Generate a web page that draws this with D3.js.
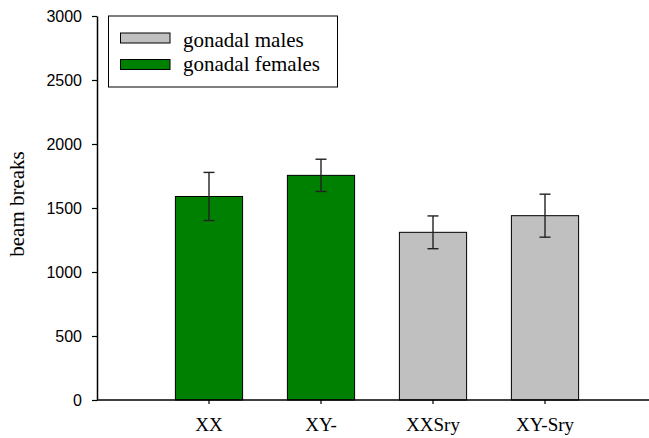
<!DOCTYPE html>
<html>
<head>
<meta charset="utf-8">
<script src="https://cdn.jsdelivr.net/npm/d3@7"></script>
<style>
  body { margin: 0; background: #fff; }
</style>
</head>
<body>
<div id="chart"></div>
<script>
// data
const categories = ["XX", "XY-", "XXSry", "XY-Sry"];
const means = [1590, 1755, 1310, 1440];
const errors = [188, 126, 128, 168];
const groups = ["female", "female", "male", "male"];
const yTicks = [0, 500, 1000, 1500, 2000, 2500, 3000];
const legendLabels = ["gonadal males", "gonadal females"];
const legendGroups = ["male", "female"];

const colour = { male: "#c0c0c0", female: "#008000" };
const serif = "'Liberation Serif', 'Times New Roman', serif";
const sans = "'Liberation Sans', Arial, sans-serif";

const svg = d3.select("#chart")
.append("svg")
.attr("width", 649)
.attr("height", 438);

const yScale = d3.scaleLinear()
.domain([0, 3000])
.range([400, 16]);

// categories sit on slots 1..4 of an axis running 0..5
const xScale = d3.scaleBand()
.domain(categories)
.range([153, 601])
.paddingInner(0.4)
.paddingOuter(0.2);

// bars
svg.selectAll(".bar")
    .data(categories)
    .join("rect")
    .attr("class", "bar")
    .attr("x", d => xScale(d))
    .attr("y", (d, i) => yScale(means[i]))
    .attr("width", xScale.bandwidth())
    .attr("height", (d, i) => yScale(0) - yScale(means[i]))
    .attr("fill", (d, i) => colour[groups[i]])
    .attr("stroke", "#000")
    .attr("stroke-width", 1);

// error bars
const cx = d => xScale(d) + xScale.bandwidth() / 2;
svg.selectAll(".err")
    .data(categories)
    .join("line")
    .attr("class", "err")
    .attr("x1", cx)
    .attr("x2", cx)
    .attr("y1", (d, i) => yScale(means[i] + errors[i]))
    .attr("y2", (d, i) => yScale(means[i] - errors[i]))
    .attr("stroke", "#222")
    .attr("stroke-width", 1.4);

svg.selectAll(".cap-top")
    .data(categories)
    .join("line")
    .attr("class", "cap-top")
    .attr("x1", d => cx(d) - 5.5)
    .attr("x2", d => cx(d) + 5.5)
    .attr("y1", (d, i) => yScale(means[i] + errors[i]))
    .attr("y2", (d, i) => yScale(means[i] + errors[i]))
    .attr("stroke", "#222")
    .attr("stroke-width", 1.4);

svg.selectAll(".cap-bot")
    .data(categories)
    .join("line")
    .attr("class", "cap-bot")
    .attr("x1", d => cx(d) - 5.5)
    .attr("x2", d => cx(d) + 5.5)
    .attr("y1", (d, i) => yScale(means[i] - errors[i]))
    .attr("y2", (d, i) => yScale(means[i] - errors[i]))
    .attr("stroke", "#222")
    .attr("stroke-width", 1.4);

// y axis
const yAxis = svg.append("g")
    .attr("transform", "translate(97,0)")
    .call(d3.axisLeft(yScale).tickValues(yTicks).tickFormat(d3.format("d"))
        .tickSize(5).tickPadding(10).tickSizeOuter(0));
yAxis.select(".domain").attr("stroke", "#000").attr("stroke-width", 1.5);
yAxis.selectAll(".tick line").attr("stroke", "#000").attr("stroke-width", 1.2);
yAxis.selectAll("text")
    .style("font-family", sans)
    .style("font-size", "16px")
    .attr("fill", "#000");

// x axis
const xAxis = svg.append("g")
    .attr("transform", "translate(0,400)")
    .call(d3.axisBottom(xScale).tickSize(4).tickSizeOuter(0));
xAxis.select(".domain").remove();
xAxis.selectAll(".tick line").attr("stroke", "#000").attr("stroke-width", 1.2);
xAxis.selectAll("text")
    .attr("y", 31)
    .attr("dy", 0)
    .style("font-family", serif)
    .style("font-size", "19px")
    .attr("fill", "#000");
svg.append("line")
    .attr("x1", 97).attr("x2", 657)
    .attr("y1", 400).attr("y2", 400)
    .attr("stroke", "#000")
    .attr("stroke-width", 1.5);

// y label
svg.append("text")
    .attr("transform", "translate(24,204) rotate(-90)")
    .attr("text-anchor", "middle")
    .style("font-family", serif)
    .style("font-size", "21px")
    .text("beam breaks");

// legend
const legend = svg.append("g");
legend.append("rect")
    .attr("x", 108.5).attr("y", 16)
    .attr("width", 229).attr("height", 71)
    .attr("fill", "#fff")
    .attr("stroke", "#000")
    .attr("stroke-width", 1);

legend.selectAll(".swatch")
    .data(legendGroups)
    .join("rect")
    .attr("class", "swatch")
    .attr("x", 120.5)
    .attr("y", (d, i) => 33 + i * 26.5)
    .attr("width", 49.5)
    .attr("height", 10)
    .attr("fill", d => colour[d])
    .attr("stroke", "#000")
    .attr("stroke-width", 1);

legend.selectAll(".legend-text")
    .data(legendLabels)
    .join("text")
    .attr("class", "legend-text")
    .attr("x", 183)
    .attr("y", (d, i) => 46.5 + i * 24.5)
    .style("font-family", serif)
    .style("font-size", "21px")
    .text(d => d);
</script>
</body>
</html>
